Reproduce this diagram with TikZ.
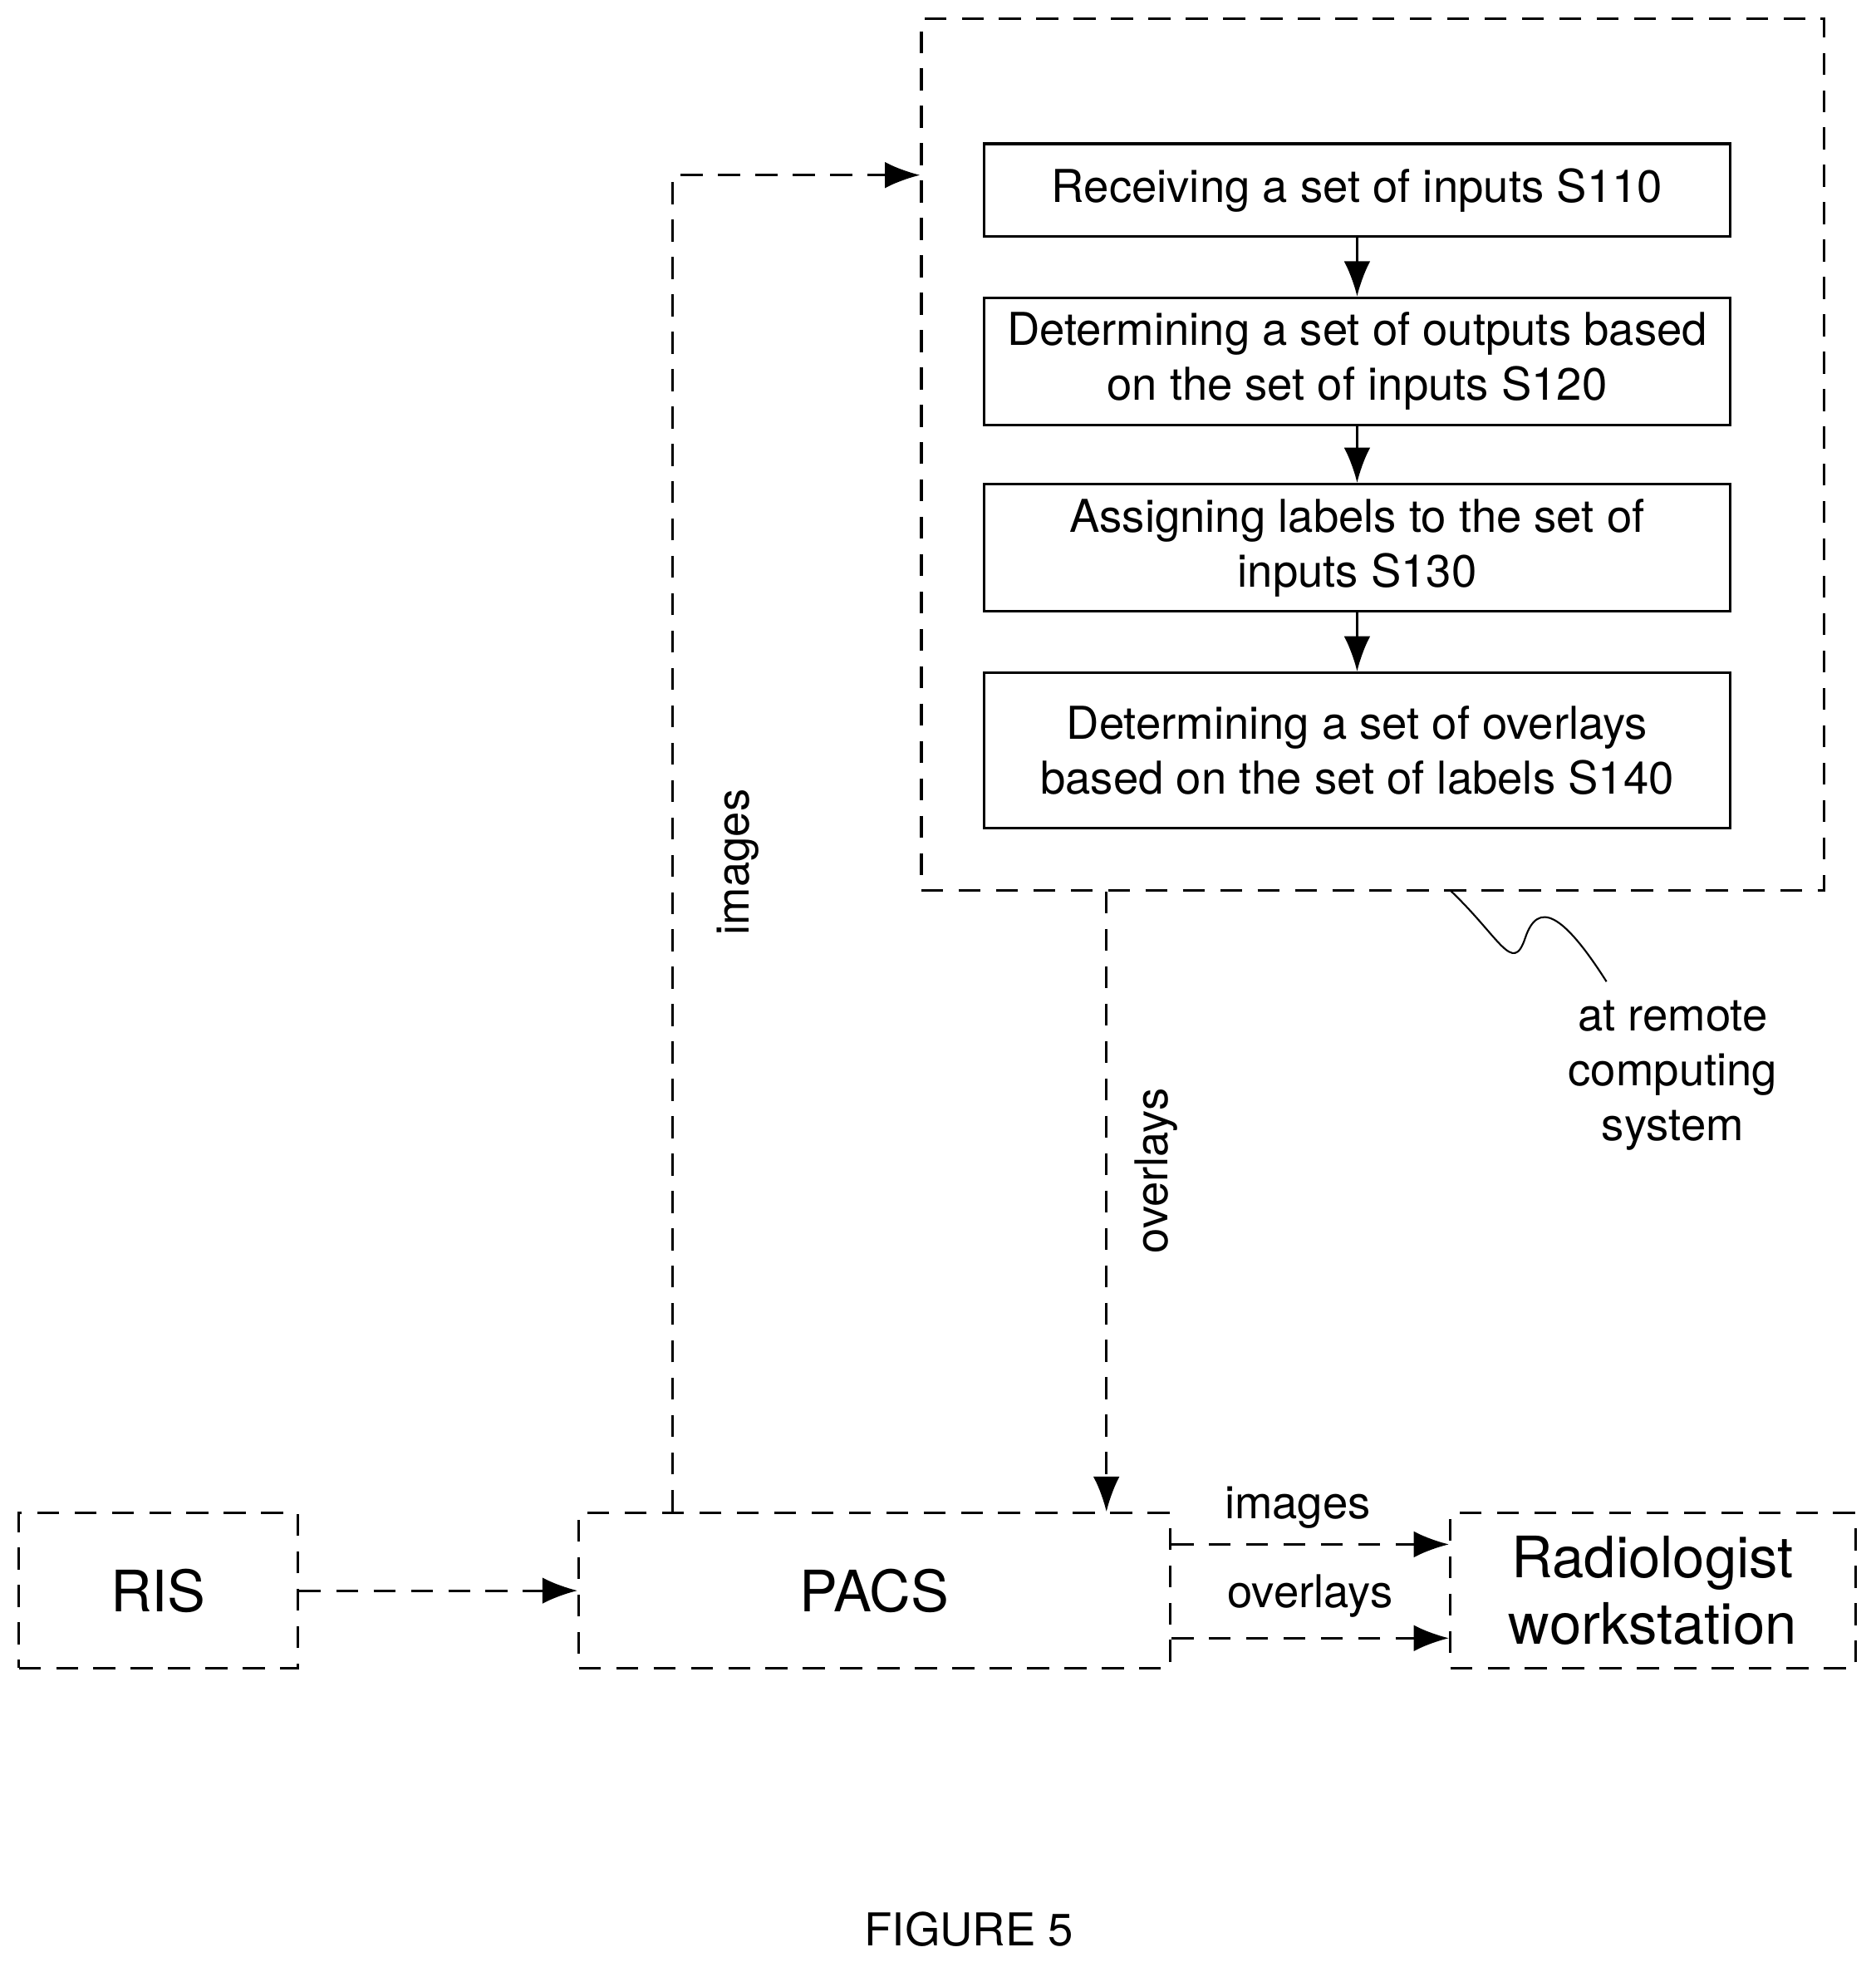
\documentclass[tikz,border=0pt]{standalone}
\usepackage{fontspec}
\setmainfont{TeX Gyre Heros}
\usetikzlibrary{arrows.meta,positioning}
\tikzset{
    % dashed blocks
    dbox/.style={draw, semithick, dash pattern=on 5pt off 3.5pt, minimum height=1.24cm, font=\fontsize{13}{15}\selectfont, align=center},
    % solid step boxes
    stepbox/.style={draw, semithick, minimum width=5.97cm, align=center, font=\fontsize{10.3}{12.5}\selectfont},
    darrow/.style={semithick, dash pattern=on 5pt off 3.5pt, -{Latex[length=8pt,width=6pt]}},
    sarrow/.style={semithick, -{Latex[length=8pt,width=6pt]}},
    lbl/.style={font=\fontsize{10.3}{12.5}\selectfont}
}
\begin{document}
\begin{tikzpicture}
    \useasboundingbox (0,0) rectangle (15,-15.69);
    % remote system
    \node[dbox, minimum width=7.22cm, minimum height=6.97cm] (remote) at (10.98,-3.635) {};
    \node[stepbox, minimum height=0.74cm] (s110) at (10.855,-1.52) {Receiving a set of inputs S110};
    \node[stepbox, minimum height=1.0cm] (s120) at (10.855,-2.89) {Determining a set of outputs based\\on the set of inputs S120};
    \node[stepbox, minimum height=1.0cm] (s130) at (10.855,-4.38) {Assigning labels to the set of\\inputs S130};
    \node[stepbox, minimum height=1.24cm] (s140) at (10.855,-6.0) {Determining a set of overlays\\based on the set of labels S140};
    \foreach \a/\b in {s110/s120, s120/s130, s130/s140} {
        \draw[sarrow] (\a) -- (\b);
    }
    % bottom row
    \node[dbox, minimum width=2.23cm] (ris) at (1.265,-12.72) {RIS};
    \node[dbox, minimum width=4.73cm] (pacs) at (6.995,-12.72) {PACS};
    \node[dbox, minimum width=3.24cm] (work) at (13.22,-12.72) {Radiologist\\workstation};
    \draw[darrow] (ris) -- (pacs);
    \draw[darrow] ([yshift=0.37cm]pacs.east) -- node[lbl, above=0pt, xshift=-0.1cm]{images} ([yshift=0.37cm]work.west);
    \draw[darrow] ([yshift=-0.38cm]pacs.east) -- node[lbl, above=1pt]{overlays} ([yshift=-0.38cm]work.west);
    % links to remote system
    \draw[darrow] (pacs.north -| 5.38,0) |- node[lbl, pos=0.243, rotate=90, yshift=-0.52cm]{images} (remote.west |- 0,-1.4);
    \draw[darrow] (remote.south -| 8.85,0) -- node[lbl, pos=0.45, rotate=90, yshift=-0.4cm]{overlays} (pacs.north -| 8.85,0);
    % remote note
    \coordinate (squig) at (11.6,-7.12);
    \draw[thin] (squig) .. controls (12.0,-7.5) and (12.1,-7.8) .. (12.2,-7.5)
        .. controls (12.3,-7.2) and (12.5,-7.3) .. (12.85,-7.85);
    \node[lbl, align=center] (note) at (13.38,-8.6) {at remote\\computing\\system};
    \node[lbl] (fig) at (7.75,-15.43) {FIGURE 5};
\end{tikzpicture}
\end{document}
